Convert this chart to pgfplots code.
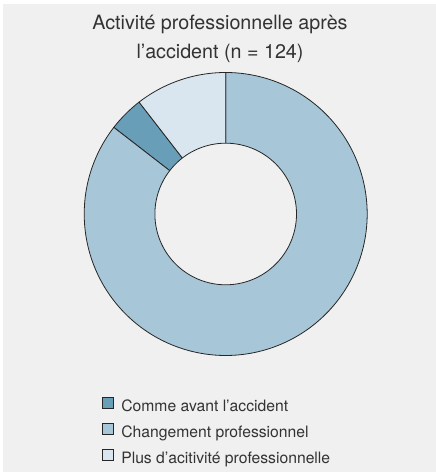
\documentclass[border=0pt]{standalone}
\usepackage{fontspec}
\setmainfont{TeX Gyre Heros}
\usepackage{pgfplots}
\usepackage{pgfplotstable}
\pgfplotsset{compat=1.18}
\definecolor{panel}{HTML}{F0F0F0}
\definecolor{cdark}{HTML}{689EB8}
\definecolor{cmid}{HTML}{A7C6D7}
\definecolor{clight}{HTML}{D9E6EF}
\definecolor{edge}{HTML}{262626}
\definecolor{txt}{HTML}{333333}

% values: n = 124
\pgfplotstableread{
category value
comme 5
changement 106
plus 13
}\donutdata
\pgfplotstablegetelem{0}{value}\of\donutdata \let\vCom\pgfplotsretval
\pgfplotstablegetelem{1}{value}\of\donutdata \let\vChg\pgfplotsretval
\pgfplotstablegetelem{2}{value}\of\donutdata \let\vPlus\pgfplotsretval
\pgfmathsetmacro\total{\vCom+\vChg+\vPlus}
\pgfmathsetmacro\aB{90-\vChg/\total*360}
\pgfmathsetmacro\aC{\aB-\vCom/\total*360}
\pgfmathsetmacro\aD{\aC-\vPlus/\total*360}
\def\Rout{141.5}
\def\Rin{70.8}

\begin{document}
\begin{tikzpicture}
\begin{axis}[
  x=1bp, y=1bp,
  xmin=-225.7, xmax=210.3, ymin=-258, ymax=214,
  hide axis, clip=false,
  axis background/.style={fill=panel},
  legend cell align=left,
  legend style={draw=none, fill=none, inner sep=0pt, outer sep=0pt,
    at={(axis cs:-123.7,-183.5)}, anchor=north west,
    font=\fontsize{15.7bp}{18bp}\selectfont, text=txt,
    row sep=8bp, column sep=8bp,
    nodes={inner sep=0pt, text height=11.5bp, text depth=3.5bp}},
  legend image code/.code={\draw[#1, draw=edge, line width=0.8bp] (0bp,-0.5bp) rectangle (10.5bp,10bp);},
]
\fill[white] (axis cs:-225.7,-258) rectangle (axis cs:-222.4,214);
\fill[white] (axis cs:-225.7,210) rectangle (axis cs:210.3,214);

\addplot[fill=cdark, draw=edge, line width=0.8bp, domain=\aC:\aB, samples=30, variable=\t]
  ({\Rout*cos(\t)},{\Rout*sin(\t)}) -- (axis cs:0,0) -- cycle;
\addplot[fill=cmid, draw=edge, line width=0.8bp, domain=\aB:90, samples=200, variable=\t]
  ({\Rout*cos(\t)},{\Rout*sin(\t)}) -- (axis cs:0,0) -- cycle;
\addplot[fill=clight, draw=edge, line width=0.8bp, domain=\aD:\aC, samples=40, variable=\t]
  ({\Rout*cos(\t)},{\Rout*sin(\t)}) -- (axis cs:0,0) -- cycle;
\addplot[fill=panel, draw=edge, line width=0.8bp, domain=0:360, samples=181, forget plot]
  ({\Rin*cos(x)},{\Rin*sin(x)}) -- cycle;

\node[anchor=base, text=txt, font=\fontsize{19.7bp}{29bp}\selectfont] at (axis cs:-5.7,184.7) {Activité professionnelle après};
\node[anchor=base, text=txt, font=\fontsize{19.7bp}{29bp}\selectfont] at (axis cs:-5.7,155.7) {l’accident (n = 124)};

\legend{Comme avant l’accident, Changement professionnel, Plus d’acitivité professionnelle}
\end{axis}
\end{tikzpicture}
\end{document}
